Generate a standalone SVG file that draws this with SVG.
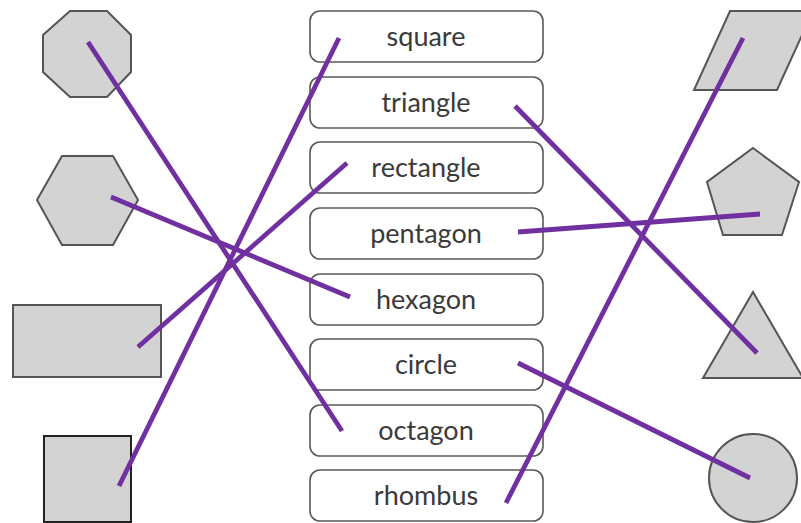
<svg xmlns="http://www.w3.org/2000/svg" width="801" height="523" viewBox="0 0 801 523">
<style>
.shape{fill:#d3d3d3;stroke:#555;stroke-width:2}
.box{fill:#fff;stroke:#595959;stroke-width:1.6}
.lbl{font-family:Lato,"Open Sans",sans-serif;font-size:27px;fill:#3a3a3a;text-anchor:middle}
.ln{stroke:#7030A0;stroke-width:4.8;fill:none}
</style>
<rect width="801" height="523" fill="#fff"/>
<g id="octagon-shape"><polygon class="shape" points="70,11 107,11 131,35 131,72 107,97 70,97 43,72 43,35"/></g>
<g id="hexagon-shape"><polygon class="shape" points="62,156 113,156 138,200 113,245 62,245 37,200"/></g>
<g id="rectangle-shape"><rect class="shape" x="13" y="305" width="148" height="72"/></g>
<g id="square-shape"><rect class="shape" x="44" y="436" width="87" height="86" style="stroke:#222"/></g>
<g id="parallelogram-shape"><polygon class="shape" points="730,11 813,11 777,90 694,90"/></g>
<g id="pentagon-shape"><polygon class="shape" points="753,148 799,182 782,235 723,235 707,182"/></g>
<g id="triangle-shape"><polygon class="shape" points="753,292 803,378 703,378"/></g>
<g id="circle-shape"><circle class="shape" cx="753" cy="478" r="44"/></g>
<g id="box-square"><rect class="box" x="310" y="11" width="233" height="51" rx="10"/><text class="lbl" x="426" y="46">square</text></g>
<g id="box-triangle"><rect class="box" x="310" y="77" width="233" height="51" rx="10"/><text class="lbl" x="426" y="112">triangle</text></g>
<g id="box-rectangle"><rect class="box" x="310" y="142" width="233" height="51" rx="10"/><text class="lbl" x="426" y="177">rectangle</text></g>
<g id="box-pentagon"><rect class="box" x="310" y="208" width="233" height="51" rx="10"/><text class="lbl" x="426" y="243">pentagon</text></g>
<g id="box-hexagon"><rect class="box" x="310" y="274" width="233" height="51" rx="10"/><text class="lbl" x="426" y="309">hexagon</text></g>
<g id="box-circle"><rect class="box" x="310" y="339" width="233" height="51" rx="10"/><text class="lbl" x="426" y="374">circle</text></g>
<g id="box-octagon"><rect class="box" x="310" y="405" width="233" height="51" rx="10"/><text class="lbl" x="426" y="440">octagon</text></g>
<g id="box-rhombus"><rect class="box" x="310" y="470" width="233" height="51" rx="10"/><text class="lbl" x="426" y="505">rhombus</text></g>
<g id="connectors">
<line class="ln" x1="88" y1="42" x2="342" y2="431"/>
<line class="ln" x1="111" y1="197" x2="350" y2="297"/>
<line class="ln" x1="138" y1="347" x2="347" y2="163"/>
<line class="ln" x1="119" y1="486" x2="339" y2="38"/>
<line class="ln" x1="515" y1="106" x2="757" y2="353"/>
<line class="ln" x1="518" y1="232" x2="760" y2="214"/>
<line class="ln" x1="518" y1="363" x2="750" y2="478"/>
<line class="ln" x1="506" y1="503" x2="743" y2="38"/>
</g>
</svg>
